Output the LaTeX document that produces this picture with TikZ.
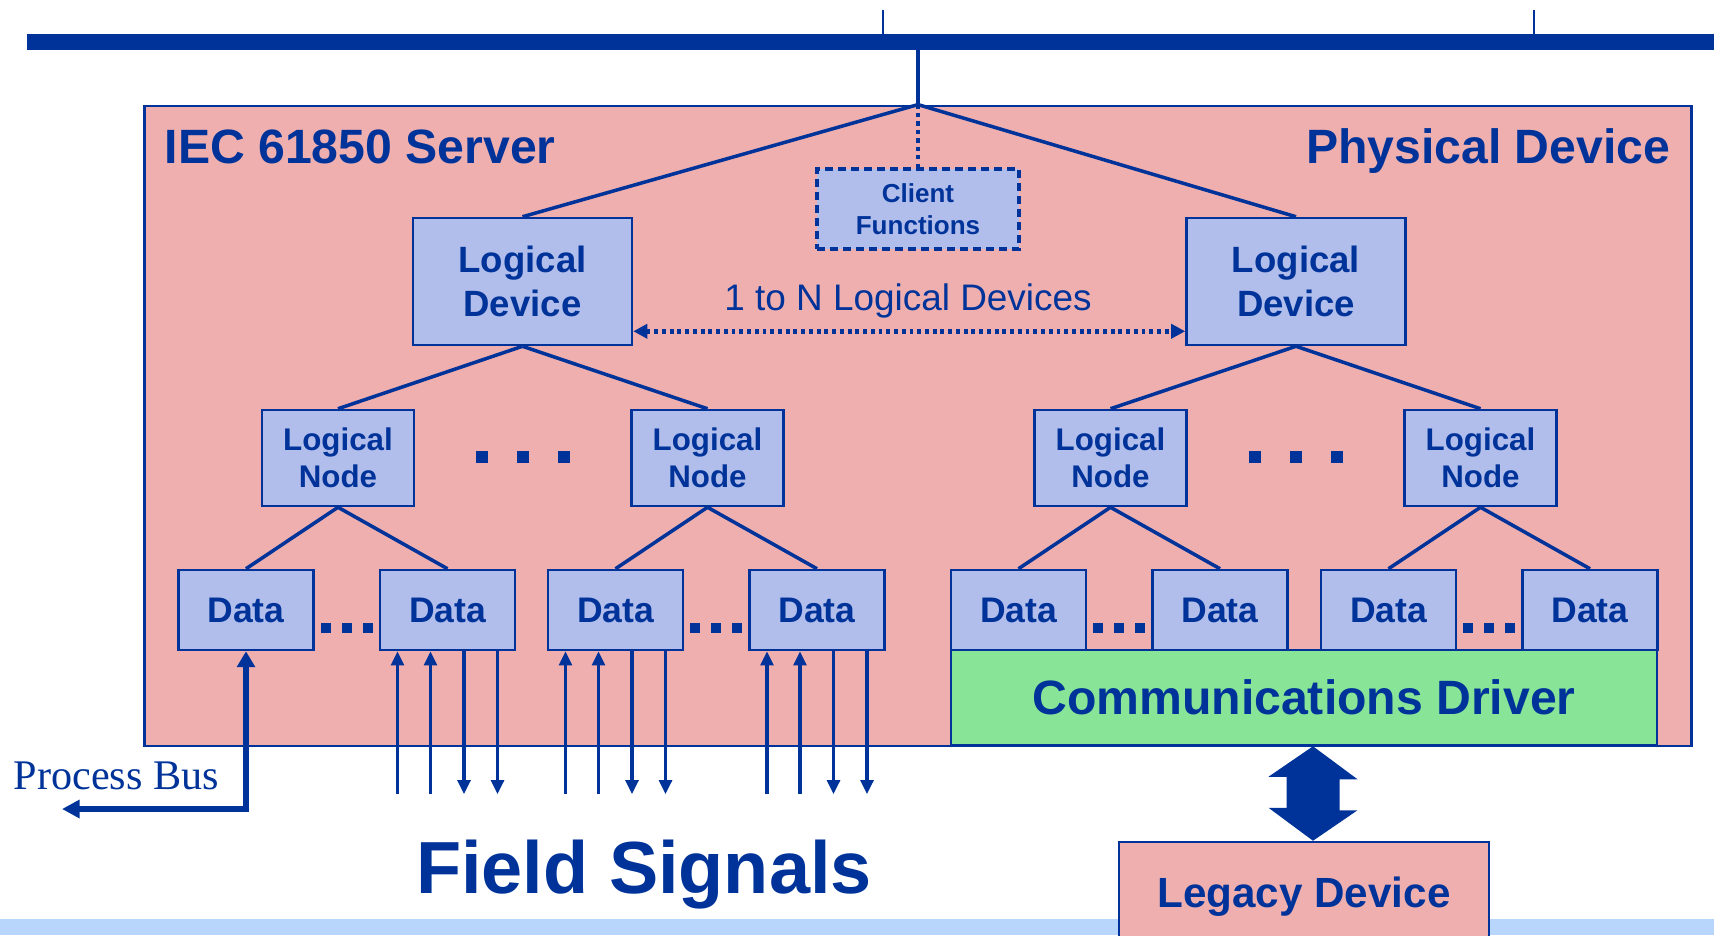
\documentclass[tikz,border=0pt]{standalone}
\usepackage{fontspec}
\setmainfont{Liberation Sans}
\newfontfamily\busserif{Liberation Serif}
\usepackage{tikz}
\usetikzlibrary{arrows.meta,positioning,calc}

\definecolor{iecblue}{RGB}{0,51,153}
\definecolor{serverpink}{RGB}{239,175,175}
\definecolor{boxblue}{RGB}{177,189,235}
\definecolor{drivergreen}{RGB}{136,229,152}
\definecolor{stripblue}{RGB}{184,214,252}

\begin{document}
\begin{tikzpicture}[x=0.01cm, y=-0.01cm,
    every node/.style={text=iecblue, inner sep=0pt, align=center},
    box/.style={draw=iecblue, line width=0.7pt, fill=boxblue},
    ldbox/.style={box, minimum width=2.19cm, minimum height=1.27cm, font=\bfseries\fontsize{10.4}{12.5}\selectfont},
    lnbox/.style={box, minimum width=1.52cm, minimum height=0.96cm, font=\bfseries\fontsize{8.9}{10.6}\selectfont},
    databox/.style={box, minimum width=1.35cm, minimum height=0.80cm, font=\bfseries\fontsize{10.1}{12}\selectfont},
    link/.style={draw=iecblue, line width=1pt},
    sigup/.style={link, {Triangle[width=3.6pt,length=4pt]}-},
    sigdown/.style={link, -{Triangle[width=3.6pt,length=4pt]}}]

    \useasboundingbox (0,0) rectangle (1714,935);
    \clip (0,0) rectangle (1714,935);

    % Station bus
    \fill[stripblue] (0,919) rectangle (1714,935);
    \draw[iecblue, line width=4.5pt] (27,42) -- (1714,42);
    \foreach \x in {883, 1534} {
        \draw[iecblue, line width=0.6pt] (\x,10) -- (\x,35);
    }
    \coordinate (tap) at (918,49);

    % Server box
    \node[draw=iecblue, line width=0.7pt, fill=serverpink, minimum width=15.46cm, minimum height=6.4cm] (server) at (918,426) {};
    \node[anchor=base west, font=\bfseries\fontsize{13.7}{16}\selectfont] (srvname) at (164,163) {IEC 61850 Server};
    \node[anchor=base east, font=\bfseries\fontsize{13.7}{16}\selectfont] (physname) at (1671,163) {Physical Device};
    \draw[link] (tap) -- (server.north);

    % Client functions and logical devices
    \node[box, line width=0.9pt, dash pattern=on 2.2pt off 1.5pt, minimum width=2.02cm, minimum height=0.8cm, font=\bfseries\fontsize{7.4}{9.1}\selectfont] (client) at (918,209) {Client\\Functions};
    \draw[link, dash pattern=on 1.2pt off 1.2pt] (server.north) -- (client.north);
    \node[ldbox] (ld1) at (522.5,281.5) {Logical\\Device};
    \node[ldbox] (ld2) at (1296,281.5) {Logical\\Device};
    \draw[link] (server.north) -- (ld1.north);
    \draw[link] (server.north) -- (ld2.north);
    \draw[link, line width=1.3pt, dash pattern=on 1.1pt off 1.1pt, {Triangle[width=4pt,length=4pt]}-{Triangle[width=4pt,length=4pt]}]
        ([yshift=0.15cm]ld1.south east) -- ([yshift=0.15cm]ld2.south west);
    \node[font=\fontsize{10.5}{12}\selectfont] (nlabel) at (908,301) {1 to N Logical Devices};

    % Logical nodes
    \foreach \n/\x in {1/338, 2/707.5, 3/1110.5, 4/1480.5} {
        \node[lnbox] (ln\n) at (\x,458) {Logical\\Node};
    }
    \foreach \d/\n in {ld1/ln1, ld1/ln2, ld2/ln3, ld2/ln4} {
        \draw[link] (\d.south) -- (\n.north);
    }
    \foreach \a/\b in {ln1/ln2, ln3/ln4} {
        \foreach \s in {-41, 0, 41} {
            \fill[iecblue] ($(\a.east)!0.5!(\b.west)+(\s,-1)$) ++(-6,-6) rectangle ++(12,12);
        }
    }

    % Data objects
    \foreach \i/\x in {1/246, 2/447.5, 3/615.5, 4/817, 5/1018.5, 6/1220, 7/1388.5, 8/1590} {
        \node[databox] (data\i) at (\x,610) {Data};
    }
    \foreach \n/\a/\b in {1/1/2, 2/3/4, 3/5/6, 4/7/8} {
        \draw[link] (ln\n.south) -- (data\a.north);
        \draw[link] (ln\n.south) -- (data\b.north);
        \foreach \s in {-21, 0, 21} {
            \fill[iecblue] ($(data\a.east)!0.5!(data\b.west)+(\s,18)$) ++(-5,-5) rectangle ++(10,10);
        }
    }

    % Communications driver and legacy device
    \node[draw=iecblue, line width=0.7pt, fill=drivergreen, minimum width=7.06cm, minimum height=0.95cm, font=\bfseries\fontsize{13.7}{16}\selectfont] (driver) at (1304,697.5) {Communications Driver};
    \node[draw=iecblue, line width=0.7pt, fill=serverpink, minimum width=3.7cm, minimum height=1.1cm, font=\bfseries\fontsize{12}{14}\selectfont] (legacy) at (1304,897) {\raisebox{2pt}{Legacy Device}};
    \fill[iecblue] ($(driver.south)+(9,0)$) -- ++(44.5,33) -- ++(-18,0) -- ++(0,31) -- ++(18,0)
        -- ($(legacy.north)+(9,0)$) -- ++(-44.5,-33) -- ++(18,0) -- ++(0,-31) -- ++(-18,0) -- cycle;

    % Field signals
    \foreach \d in {2,3,4} {
        \foreach \dx/\dir [count=\k] in {-50/up, -17/up, 16.5/down, 50/down} {
            \coordinate (field\d\k) at ($(data\d.south)+(\dx,143)$);
            \draw[sig\dir] (field\d\k |- data\d.south) -- (field\d\k);
        }
    }
    \node[anchor=base, font=\bfseries\fontsize{21}{24}\selectfont] (fieldname) at (644,893) {Field Signals};

    % Process bus
    \coordinate (pbend) at (62,809);
    \draw[link, line width=1.6pt, {Triangle[width=5pt,length=4.5pt]}-{Triangle[width=5pt,length=5pt]}] (data1.south) |- (pbend);
    \node[anchor=base west, font=\busserif\fontsize{12}{14}\selectfont] (pbname) at (13,789) {Process Bus};
\end{tikzpicture}
\end{document}
